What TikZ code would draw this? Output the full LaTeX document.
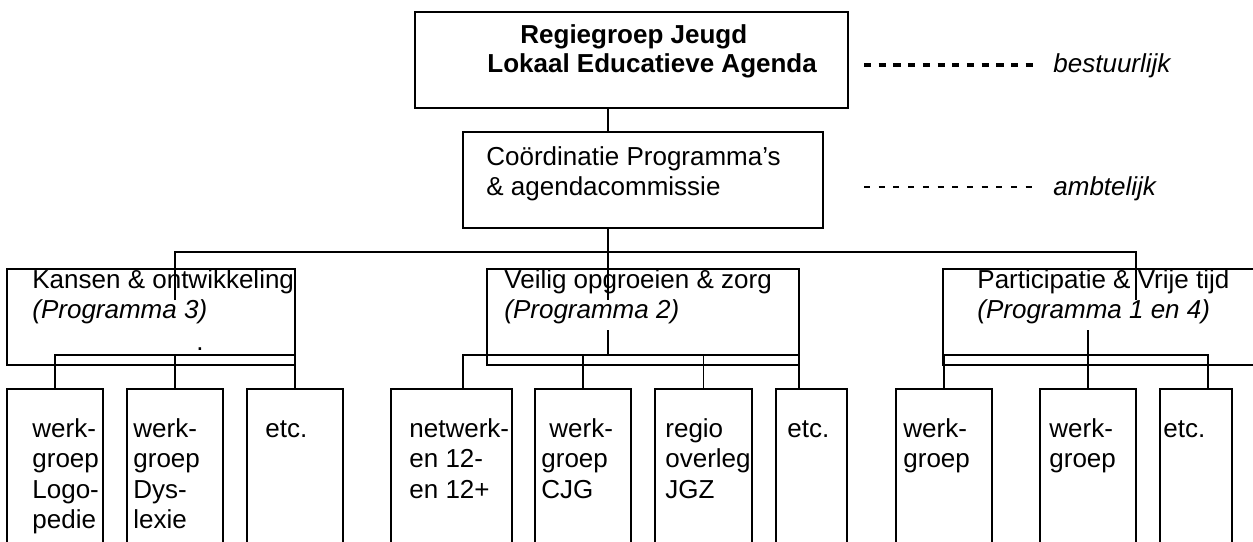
\documentclass[tikz,border=0pt]{standalone}
\usepackage{fontspec}
\setmainfont{Liberation Sans}
\usetikzlibrary{fit}
\newcommand\mylines[1]{\vtop{\baselineskip=15.3pt\lineskiplimit=-20pt\lineskip=0pt\relax #1}}
\begin{document}
\begin{tikzpicture}[x=0.5pt,y=-0.5pt,
  box/.style={draw=black,line width=0.85pt,inner sep=0pt,fit={#1}},
  conn/.style={draw=black,line width=0.75pt},
  txt/.style={inner sep=0pt,anchor=base west,font=\fontsize{13pt}{15.3pt}\selectfont},
  bolddash/.style={draw=black,line width=2pt,dash pattern=on 3.6pt off 3.75pt},
  thindash/.style={draw=black,line width=0.75pt,dash pattern=on 3pt off 4.35pt}]
\useasboundingbox (0,0) rectangle (1253,541);
\clip (0,0) rectangle (1253,541);
\fill[white] (0,0) rectangle (1253,541);
% boxes
\node[box={(415,12) (848,108)}] (top) {};
\node[box={(463,132) (823,228)}] (coord) {};
\node[box={(7,269) (295,365)}] (kans) {};
\node[box={(487,269) (799,365)}] (veil) {};
\node[box={(943,269) (1290,365)}] (part) {};
\node[box={(7,389) (103,570)}] (k1) {};
\node[box={(127,389) (223,570)}] (k2) {};
\node[box={(247,389) (343,570)}] (k3) {};
\node[box={(391,389) (512,570)}] (v1) {};
\node[box={(535,389) (631,570)}] (v2) {};
\node[box={(655,389) (752,570)}] (v3) {};
\node[box={(776,389) (847,570)}] (v4) {};
\node[box={(896,389) (992,570)}] (p1) {};
\node[box={(1040,389) (1136,570)}] (p2) {};
\node[box={(1160,389) (1232,570)}] (p3) {};
% coordinates
\coordinate (mx) at (608,252);
\coordinate (bL) at (175,252);
\coordinate (bR) at (1136,252);
\coordinate (kEnd) at (175,300);
\coordinate (mEnd) at (608,300);
\coordinate (pEnd) at (1136,300);
\coordinate (sb) at (0,355);
\coordinate (vx1) at (463,0);
\coordinate (vx4) at (799,0);
\coordinate (px3) at (1208,0);
\coordinate (vtop) at (608,330);
\coordinate (ptop) at (1088,330);
\coordinate (d1) at (864,65);
\coordinate (d1e) at (1033,65);
\coordinate (d2) at (864,187);
\coordinate (d2e) at (1033,187);
% connectors
\draw[conn] (top.south -| mx) -- (coord.north -| mx);
\draw[conn] (coord.south -| mx) -- (mEnd);
\draw[conn] (kEnd) -- (bL) -- (bR) -- (pEnd);
% Kansen
\draw[conn] (k1.north) -- (k1.north |- sb) -- (k3.north |- sb) -- (k3.north);
\draw[conn] (k2.north) -- (k2.north |- sb);
% Veilig
\draw[conn] (v1.north -| vx1) -- (sb -| vx1) -- (sb -| vx4) -- (v4.north -| vx4);
\draw[conn] (v2.north) -- (v2.north |- sb);
\draw[conn] (v3.north) -- (v3.north |- sb);
\draw[conn] (vtop) -- (vtop |- sb);
% Participatie
\draw[conn] (p1.north) -- (p1.north |- sb) -- (sb -| px3) -- (p3.north -| px3);
\draw[conn] (ptop) -- (p2.north |- ptop) -- (p2.north);
% dashes
\draw[bolddash] (d1) -- (d1e);
\draw[thindash] (d2) -- (d2e);
% texts
\node[txt] (t1) at (520,43) {\bfseries Regiegroep Jeugd};
\node[txt] (t2) at (487,72) {\bfseries Lokaal Educatieve Agenda};
\node[txt] (t3) at (486,165) {\mylines{\hbox{Coördinatie Programma’s}\hbox{\& agendacommissie}}};
\node[txt] (lb1) at (1053,72) {\itshape bestuurlijk};
\node[txt] (lb2) at (1053,195) {\itshape ambtelijk};
\node[txt] (tk) at (32,288) {\mylines{\hbox{Kansen \& ontwikkeling}\hbox{\itshape (Programma 3)}}};
\node[txt] (tdot) at (196,350) {.};
\node[txt] (tv) at (504,288) {\mylines{\hbox{Veilig opgroeien \& zorg}\hbox{\itshape (Programma 2)}}};
\node[txt] (tp) at (977,288) {\mylines{\hbox{Participatie \& Vrije tijd}\hbox{\itshape (Programma 1 en 4)}}};
\node[txt] (tk1) at (32,437) {\mylines{\hbox{werk-}\hbox{groep}\hbox{Logo-}\hbox{pedie}}};
\node[txt] (tk2) at (133,437) {\mylines{\hbox{werk-}\hbox{groep}\hbox{Dys-}\hbox{lexie}}};
\node[txt] (tk3) at (265,437) {etc.};
\node[txt] (tv1) at (409,437) {\mylines{\hbox{netwerk-}\hbox{en 12-}\hbox{en 12+}}};
\node[txt] (tv2) at (541,437) {\mylines{\hbox{\hspace{4pt}werk-}\hbox{groep}\hbox{CJG}}};
\node[txt] (tv3) at (665,437) {\mylines{\hbox{regio}\hbox{overleg}\hbox{JGZ}}};
\node[txt] (tv4) at (787,437) {etc.};
\node[txt] (tp1) at (903,437) {\mylines{\hbox{werk-}\hbox{groep}}};
\node[txt] (tp2) at (1049,437) {\mylines{\hbox{werk-}\hbox{groep}}};
\node[txt] (tp3) at (1163,437) {etc.};
\end{tikzpicture}
\end{document}
